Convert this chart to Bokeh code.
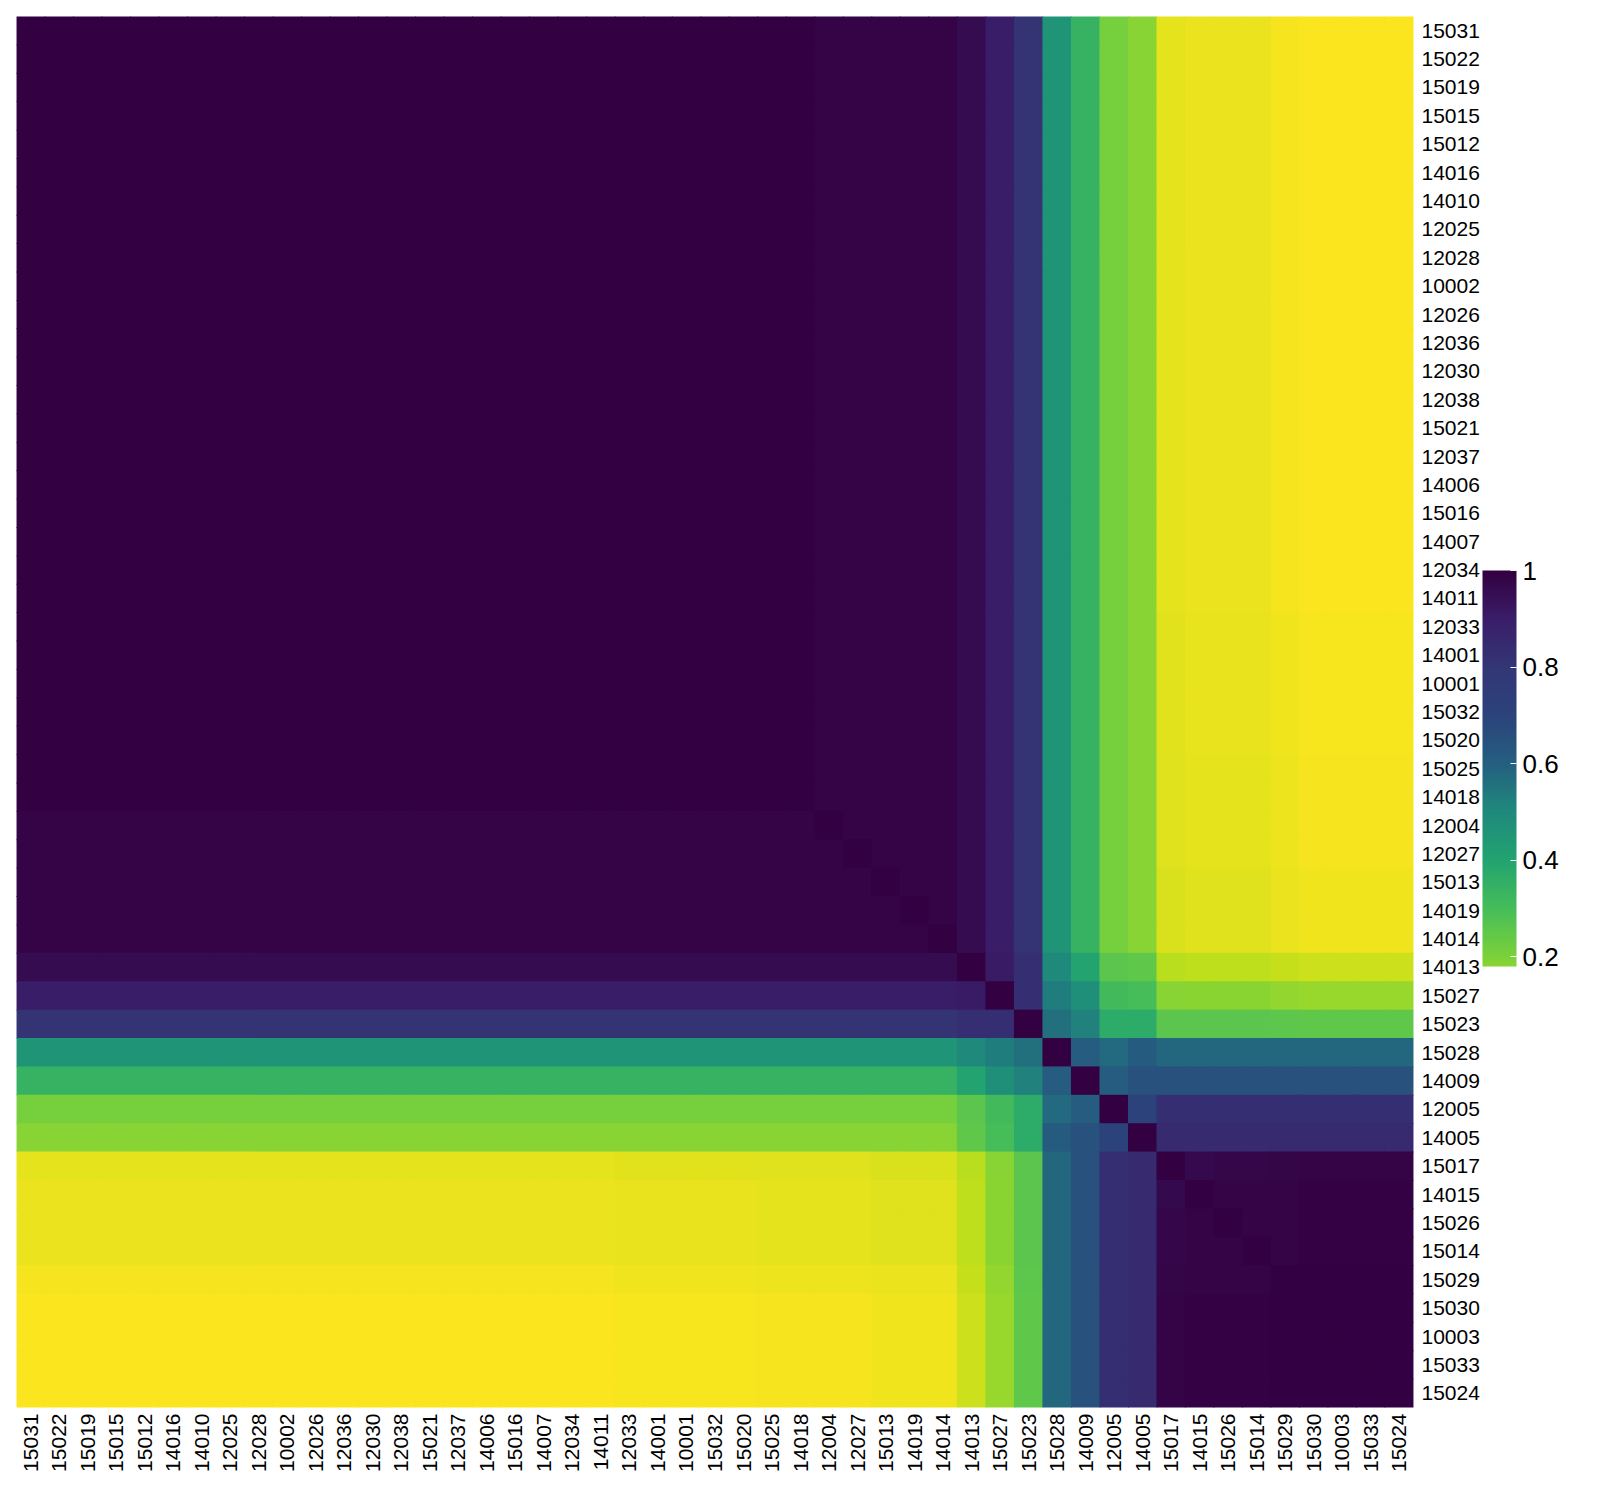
import math
import numpy as np
from bokeh.plotting import figure
from bokeh.models import (LinearColorMapper, ColorBar, FixedTicker,
                          CustomJSTickFormatter, FactorRange, ColumnDataSource)
from bokeh.transform import transform
from bokeh.embed import file_html
from bokeh.resources import INLINE

# ---------------- data ----------------
a_labels = ["15031", "15022", "15019", "15015", "15012", "14016", "14010", "12025",
            "12028", "10002", "12026", "12036", "12030", "12038", "15021", "12037",
            "14006", "15016", "14007", "12034", "14011", "12033", "14001", "10001",
            "15032", "15020", "15025", "14018", "12004", "12027", "15013", "14019",
            "14014"]
mid_labels = ["14013", "15027", "15023", "15028", "14009", "12005", "14005"]
b_labels = ["15017", "14015", "15026", "15014", "15029", "15030", "10003", "15033", "15024"]
labels = a_labels + mid_labels + b_labels

# correlation inside the large block
a_core_corr = 0.997
a_tail_corr = 0.987
a_tail = ["12004", "12027", "15013", "14019", "14014"]

# middle labels against the large block
mid_vs_a = [0.96, 0.90, 0.81, 0.46, 0.34, 0.21, 0.183]

# middle labels against each other
mid_vs_mid = [
    [1.00, 0.91, 0.83, 0.50, 0.40, 0.26, 0.25],
    [0.91, 1.00, 0.83, 0.53, 0.48, 0.31, 0.30],
    [0.83, 0.83, 1.00, 0.56, 0.52, 0.37, 0.37],
    [0.50, 0.53, 0.56, 1.00, 0.61, 0.575, 0.615],
    [0.40, 0.48, 0.52, 0.61, 1.00, 0.61, 0.65],
    [0.26, 0.31, 0.37, 0.575, 0.61, 1.00, 0.71],
    [0.25, 0.30, 0.37, 0.615, 0.65, 0.71, 1.00],
]

# middle labels against the small block
mid_vs_b = [
    [0.11, 0.105, 0.105, 0.105, 0.09, 0.08, 0.08, 0.08, 0.08],
    [0.18, 0.178, 0.178, 0.178, 0.165, 0.16, 0.16, 0.16, 0.16],
    [0.26, 0.26, 0.26, 0.26, 0.255, 0.25, 0.25, 0.25, 0.25],
    [0.58, 0.58, 0.58, 0.58, 0.58, 0.58, 0.58, 0.58, 0.58],
    [0.65, 0.65, 0.65, 0.65, 0.65, 0.65, 0.65, 0.65, 0.65],
    [0.83, 0.83, 0.83, 0.83, 0.83, 0.83, 0.83, 0.83, 0.83],
    [0.85, 0.85, 0.85, 0.85, 0.85, 0.85, 0.85, 0.85, 0.85],
]

# large block against small block: a few row bands
a_vs_b_profiles = [
    [0.040, 0.030, 0.030, 0.030, 0.015, 0.005, 0.005, 0.005, 0.005],
    [0.045, 0.035, 0.035, 0.035, 0.020, 0.008, 0.008, 0.008, 0.008],
    [0.050, 0.040, 0.040, 0.040, 0.025, 0.012, 0.012, 0.012, 0.012],
    [0.060, 0.050, 0.050, 0.050, 0.030, 0.020, 0.020, 0.020, 0.020],
]
a_vs_b_band = [0] * 21 + [1] * 5 + [2] * 4 + [3] * 3

# small block against itself
b_vs_b = [
    [1.000, 0.965, 0.975, 0.975, 0.982, 0.985, 0.985, 0.985, 0.985],
    [0.965, 1.000, 0.985, 0.985, 0.988, 0.990, 0.990, 0.990, 0.990],
    [0.975, 0.985, 1.000, 0.985, 0.988, 0.992, 0.992, 0.992, 0.992],
    [0.975, 0.985, 0.985, 1.000, 0.988, 0.992, 0.992, 0.992, 0.992],
    [0.982, 0.988, 0.988, 0.988, 1.000, 0.993, 0.993, 0.993, 0.993],
    [0.985, 0.990, 0.992, 0.992, 0.993, 1.000, 0.996, 0.996, 0.996],
    [0.985, 0.990, 0.992, 0.992, 0.993, 0.996, 1.000, 0.996, 0.996],
    [0.985, 0.990, 0.992, 0.992, 0.993, 0.996, 0.996, 1.000, 0.996],
    [0.985, 0.990, 0.992, 0.992, 0.993, 0.996, 0.996, 0.996, 1.000],
]

colorbar_ticks = [0.2, 0.4, 0.6, 0.8, 1.0]

# ---------------- build matrix ----------------
n = len(labels)
na, nm, nb = len(a_labels), len(mid_labels), len(b_labels)
M = np.zeros((n, n))
for i, ra in enumerate(a_labels):
    for j, ca in enumerate(a_labels):
        M[i, j] = a_tail_corr if (ra in a_tail or ca in a_tail) else a_core_corr
    M[i, i] = 1.0
for k in range(nm):
    for i in range(na):
        M[na + k, i] = M[i, na + k] = mid_vs_a[k]
    for l in range(nm):
        M[na + k, na + l] = mid_vs_mid[k][l]
    for j in range(nb):
        M[na + k, na + nm + j] = M[na + nm + j, na + k] = mid_vs_b[k][j]
for i in range(na):
    prof = a_vs_b_profiles[a_vs_b_band[i]]
    for j in range(nb):
        M[i, na + nm + j] = M[na + nm + j, i] = prof[j]
for i in range(nb):
    for j in range(nb):
        M[na + nm + i, na + nm + j] = b_vs_b[i][j]

xs, ys, vs = [], [], []
for i, r in enumerate(labels):
    for j, c in enumerate(labels):
        xs.append(c)
        ys.append(r)
        vs.append(float(M[i, j]))
src = ColumnDataSource(dict(x=xs, y=ys, v=vs))

# ---------------- palette (viridis-like, reversed) ----------------
anchors = ["#FCE51E", "#BFDF1A", "#7AD13A", "#45BD5A", "#22A370", "#1F8A7C",
           "#245F80", "#2B437A", "#333676", "#3A1E69", "#330041"]


def hex2rgb(h):
    h = h.lstrip("#")
    return [int(h[i:i + 2], 16) for i in (0, 2, 4)]


pal = []
N = 256
for k in range(N):
    t = k / (N - 1) * (len(anchors) - 1)
    i0 = min(int(t), len(anchors) - 2)
    f = t - i0
    c0, c1 = hex2rgb(anchors[i0]), hex2rgb(anchors[i0 + 1])
    c = [round(c0[q] + (c1[q] - c0[q]) * f) for q in range(3)]
    pal.append("#%02x%02x%02x" % tuple(c))

mapper = LinearColorMapper(palette=pal, low=0.0, high=1.0)

# ---------------- figure ----------------
p = figure(x_range=FactorRange(*labels), y_range=FactorRange(*reversed(labels)),
           frame_width=1397, frame_height=1391, output_backend="svg",
           toolbar_location=None, y_axis_location="right",
           min_border_left=16, min_border_top=16, min_border_bottom=8,
           min_border_right=10)

p.rect(x="x", y="y", width=1.03, height=1.03, source=src,
       fill_color=transform("v", mapper), line_color=None)

for ax in (p.xaxis[0], p.yaxis[0]):
    ax.axis_line_color = None
    ax.major_tick_line_color = None
    ax.minor_tick_line_color = None
    ax.major_tick_out = 0
    ax.major_tick_in = 0
    ax.major_label_text_font = "Liberation Sans"
    ax.major_label_text_font_size = "21px"
    ax.major_label_text_color = "#000000"
p.xaxis.major_label_orientation = math.pi / 2
p.xaxis.major_label_standoff = 6
p.yaxis.major_label_standoff = 8
p.grid.visible = False
p.outline_line_color = None

cb = ColorBar(color_mapper=mapper, display_low=0.183, display_high=1.0,
              ticker=FixedTicker(ticks=colorbar_ticks),
              formatter=CustomJSTickFormatter(code="return String(Math.round(tick*10)/10);"),
              width=34, height=396,
              major_tick_line_color="white", major_tick_in=6, major_tick_out=0,
              minor_tick_line_color=None,
              major_label_text_font="Liberation Sans",
              major_label_text_font_size="26px",
              major_label_text_color="#000000",
              label_standoff=6, bar_line_color=None, border_line_color=None,
              background_fill_color=None, location=(0, 441), padding=0, margin=36)
p.add_layout(cb, "right")

open("out.html", "w").write(file_html(p, INLINE))
